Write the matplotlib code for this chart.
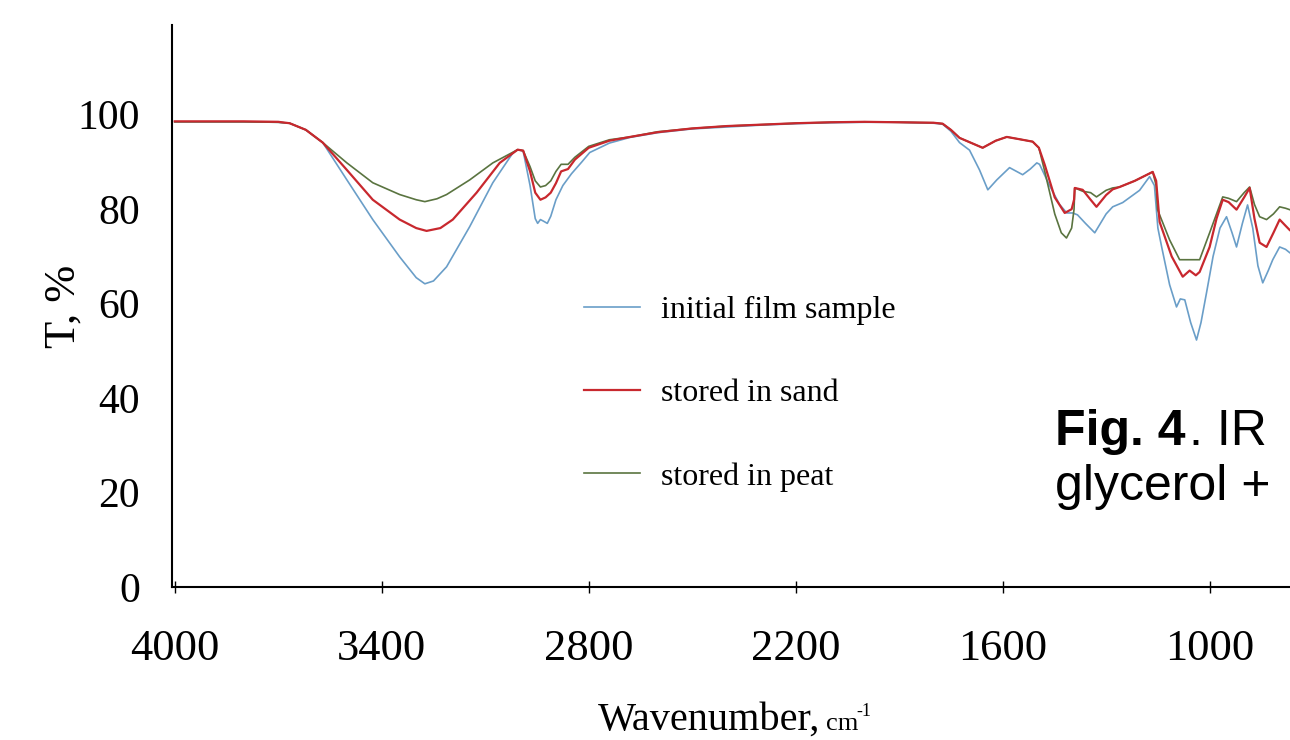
"""
IR spectra of the film samples (initial, stored in sand, stored in peat)
"""
import numpy as np
import matplotlib
matplotlib.use("Agg")
import matplotlib.pyplot as plt

# wavenumber, cm-1  /  transmittance, %
wn_initial = [4000, 3800, 3700, 3667, 3620, 3571, 3501, 3426, 3348, 3300, 3275, 3250,
              3212, 3145, 3078, 3020, 3006, 2990, 2970, 2955, 2948, 2940, 2932, 2920,
              2910, 2895, 2875, 2850, 2820, 2797, 2740, 2680, 2600, 2500, 2400, 2300,
              2200, 2100, 2000, 1900, 1800, 1774, 1750, 1725, 1696, 1667, 1643, 1617,
              1580, 1542, 1520, 1501, 1493, 1464, 1435, 1414, 1397, 1383, 1360, 1333,
              1300, 1281, 1252, 1203, 1174, 1160, 1150, 1139, 1116, 1096, 1085, 1072,
              1055, 1038, 1025, 1009, 990, 970, 951, 935, 922, 905, 890, 875, 860,
              846, 830, 817, 797, 780, 768]
t_initial = [98.5, 98.5, 98.4, 98.2, 96.8, 94.1, 86.2, 77.8, 69.9, 65.5, 64.2, 64.8,
             67.8, 76.3, 85.6, 91.9, 92.6, 92.3, 85.0, 78.0, 77.0, 77.8, 77.5, 77.0,
             78.5, 82.0, 85.0, 87.5, 90.0, 92.0, 94.0, 95.2, 96.2, 97.0, 97.4, 97.8,
             98.1, 98.3, 98.4, 98.4, 98.2, 98.0, 96.5, 94.1, 92.5, 88.3, 84.1, 86.2,
             88.8, 87.3, 88.5, 89.8, 89.5, 85.0, 81.0, 79.2, 79.2, 78.8, 77.0, 75.0,
             79.0, 80.5, 81.4, 84.0, 86.9, 85.0, 76.0, 72.0, 64.0, 59.3, 61.0, 60.8,
             56.0, 52.3, 56.0, 62.3, 70.0, 76.0, 78.4, 75.0, 72.0, 77.0, 80.9, 76.0,
             68.0, 64.4, 67.0, 69.3, 72.0, 71.5, 70.8]

wn_sand = [4000, 3800, 3700, 3667, 3620, 3571, 3501, 3426, 3348, 3300, 3270, 3230,
           3194, 3125, 3058, 3006, 2990, 2970, 2955, 2940, 2925, 2910, 2895, 2880,
           2860, 2840, 2800, 2740, 2680, 2600, 2500, 2400, 2300, 2200, 2100, 2000,
           1900, 1800, 1774, 1750, 1725, 1690, 1658, 1620, 1588, 1550, 1513, 1495,
           1478, 1449, 1420, 1400, 1393, 1391, 1368, 1345, 1328, 1300, 1281, 1261,
           1217, 1165, 1155, 1145, 1110, 1078, 1058, 1040, 1029, 1000, 980, 962,
           945, 922, 900, 884, 870, 855, 835, 815, 797, 780, 768]
t_sand = [98.6, 98.6, 98.5, 98.2, 96.8, 94.1, 88.3, 82.0, 77.8, 76.0, 75.4, 76.0,
          77.8, 83.5, 89.8, 92.6, 92.4, 88.0, 83.5, 82.0, 82.5, 83.5, 85.5, 88.0,
          88.5, 90.5, 93.0, 94.5, 95.3, 96.3, 97.1, 97.6, 97.9, 98.2, 98.4, 98.5,
          98.4, 98.3, 98.1, 96.8, 95.1, 94.0, 93.0, 94.5, 95.3, 94.8, 94.3, 93.0,
          89.4, 82.5, 79.2, 80.0, 82.0, 84.5, 84.1, 82.0, 80.5, 83.0, 84.2, 84.7,
          86.0, 87.9, 86.0, 77.3, 70.0, 65.7, 67.0, 66.0, 66.7, 72.0, 78.0, 82.0,
          81.5, 79.9, 82.5, 84.5, 78.0, 72.9, 72.0, 75.0, 77.8, 76.5, 75.6]

wn_peat = [4000, 3800, 3700, 3667, 3620, 3571, 3501, 3426, 3348, 3300, 3275, 3240,
           3212, 3145, 3078, 3006, 2990, 2970, 2955, 2940, 2925, 2910, 2895, 2880,
           2860, 2840, 2800, 2740, 2680, 2600, 2500, 2400, 2300, 2200, 2100, 2000,
           1900, 1800, 1774, 1750, 1725, 1690, 1658, 1620, 1588, 1550, 1513, 1495,
           1478, 1449, 1430, 1415, 1400, 1393, 1391, 1368, 1345, 1328, 1300, 1281,
           1261, 1217, 1165, 1155, 1151, 1116, 1087, 1060, 1029, 1000, 980, 962,
           945, 922, 900, 884, 870, 855, 835, 815, 797, 780, 768]
t_peat = [98.5, 98.5, 98.4, 98.2, 96.8, 94.1, 89.8, 85.6, 83.1, 82.0, 81.6, 82.2,
          83.1, 86.2, 89.8, 92.6, 92.4, 89.0, 86.0, 84.7, 85.0, 86.0, 88.0, 89.5,
          89.5, 91.0, 93.3, 94.7, 95.3, 96.4, 97.1, 97.6, 97.9, 98.2, 98.4, 98.5,
          98.4, 98.3, 98.1, 96.8, 95.1, 94.0, 93.0, 94.5, 95.3, 94.8, 94.3, 93.0,
          88.0, 79.0, 75.0, 73.9, 76.0, 80.0, 84.5, 83.8, 83.5, 82.6, 84.0, 84.5,
          84.7, 86.0, 87.9, 85.0, 79.9, 73.5, 69.3, 69.3, 69.3, 75.0, 79.0, 82.6,
          82.3, 81.6, 83.5, 84.7, 81.0, 78.4, 77.8, 79.0, 80.5, 80.2, 79.9]

labels = ["initial film sample", "stored in sand", "stored in peat"]
colors = ["#6a9ec8", "#c8282e", "#5a7440"]
xticks = [4000, 3400, 2800, 2200, 1600, 1000]
yticks = [0, 20, 40, 60, 80, 100]

serif = ["Liberation Serif", "DejaVu Serif"]
sans = ["Liberation Sans", "DejaVu Sans"]

fig = plt.figure(figsize=(12.9, 7.4), dpi=100)
ax = fig.add_axes([172 / 1290, 1 - 587 / 740, 1 - 172 / 1290, (587 - 25) / 740])

ax.plot(wn_initial, t_initial, color=colors[0], lw=1.2, label=labels[0], zorder=2)
ax.plot(wn_sand, t_sand, color=colors[1], lw=1.6, label=labels[1], zorder=4)
ax.plot(wn_peat, t_peat, color=colors[2], lw=1.2, label=labels[2], zorder=3)

ax.set_xlim(4008, 767)
ax.set_ylim(0, 119)
ax.set_xticks(xticks)
ax.set_yticks(yticks)
ax.tick_params(axis="x", direction="inout", length=9, width=1, pad=26, labelsize=32)
ax.tick_params(axis="y", length=0, pad=23, labelsize=30)
for lab in ax.get_xticklabels() + ax.get_yticklabels():
    lab.set_family(serif)

for s in ["top", "right"]:
    ax.spines[s].set_visible(False)
for s in ["left", "bottom"]:
    ax.spines[s].set_linewidth(1.5)

ax.set_ylabel("T, %", family=serif, fontsize=32, labelpad=8)
ax.yaxis.set_label_coords(-88 / 1118, 0.5)

# x label with smaller cm^-1 part
fig.text(598 / 1290, 1 - 730 / 740, "Wavenumber,", family=serif, fontsize=29,
         ha="left", va="baseline")
fig.text(826 / 1290, 1 - 730 / 740, "cm", family=serif, fontsize=19,
         ha="left", va="baseline")
fig.text(856 / 1290, 1 - 716 / 740, "-1", family=serif, fontsize=13,
         ha="left", va="baseline")

leg = ax.legend(loc="upper left", bbox_to_anchor=(584 / 1290, 1 - 296 / 740),
                bbox_transform=fig.transFigure, frameon=False,
                handlelength=1.75, handletextpad=0.65, labelspacing=1.68,
                borderpad=0, borderaxespad=0, prop={"family": serif, "size": 23})

# caption fragment at the right
fig.text(1055 / 1290, 1 - 445 / 740, "Fig. 4", family=sans, fontsize=36,
         fontweight="bold", ha="left", va="baseline")
fig.text(1189 / 1290, 1 - 445 / 740, ". IR", family=sans, fontsize=36,
         ha="left", va="baseline")
fig.text(1055 / 1290, 1 - 500 / 740, "glycerol +", family=sans, fontsize=36,
         ha="left", va="baseline")

fig.savefig("out.png", dpi=100)
